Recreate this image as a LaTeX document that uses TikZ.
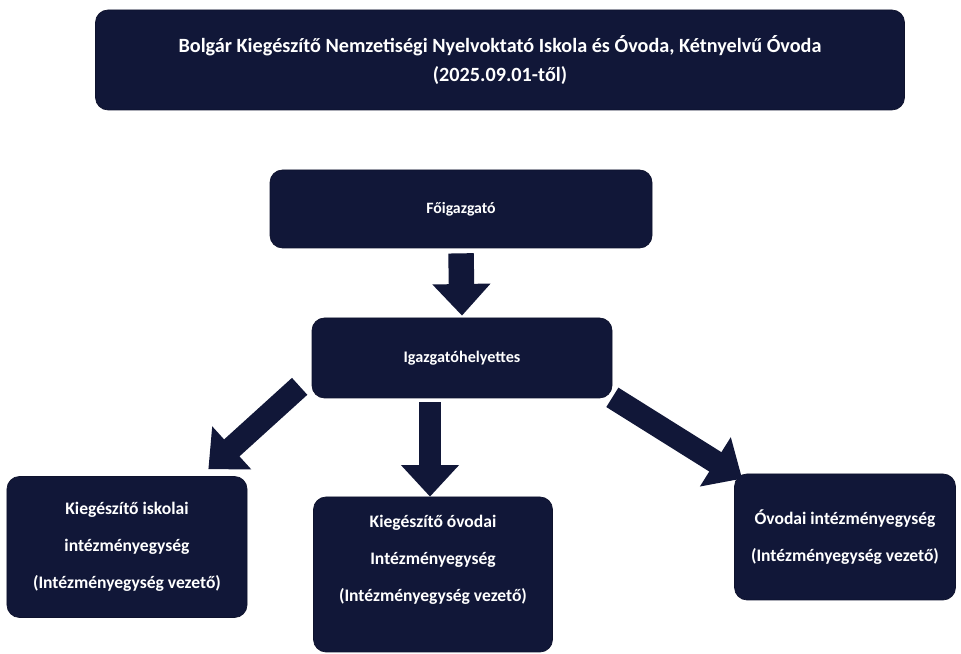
\documentclass[tikz,border=0pt]{standalone}
\usepackage{fontspec}
\setmainfont{Carlito}
\usepackage{tikz}
\usetikzlibrary{arrows.meta}
\usetikzlibrary{positioning}
\definecolor{navy}{HTML}{111738}
\tikzset{unit/.style = {fill=navy, draw=navy!80!black, rounded corners=0.25cm,
                        text=white, font=\bfseries\fontsize{10}{21}\selectfont, align=center}}
\tikzset{boxtext/.style = {text=white, font=\bfseries\fontsize{10}{21}\selectfont, align=center}}
\tikzset{bigarrow/.style = {draw=navy, line width=13pt,
                            -{Triangle[width=32pt, length=18pt]}}}

\begin{document}
\begin{tikzpicture}
      \useasboundingbox (0, 0) rectangle (19.22, 13.08);
      \node [unit, minimum width=16.18cm, minimum height=2cm,
             font=\bfseries\fontsize{11.5}{16}\selectfont] (title) at (10, 11.88)
            {Bolgár Kiegészítő Nemzetiségi Nyelvoktató Iskola és Óvoda, Kétnyelvű Óvoda\\(2025.09.01-től)};

      \node [unit, minimum width=7.64cm, minimum height=1.56cm, font=\bfseries\fontsize{9}{21}\selectfont] (fo) at (9.22, 8.9) {Főigazgató};
      \node [unit, minimum width=6cm, minimum height=1.6cm, font=\bfseries\fontsize{9.2}{21}\selectfont] (ig) at (9.24, 5.92) {Igazgatóhelyettes};

      \node [unit, minimum width=4.8cm, minimum height=2.82cm] (isk) at (2.54, 2.14)
            {Kiegészítő iskolai\\intézményegység\\(Intézményegység vezető)};
      \node [unit, minimum width=4.78cm, minimum height=3.1cm] (kov) at (8.66, 1.59) {};
      \node [boxtext] (kovtext) at ([yshift=0.3cm]kov.center)
            {Kiegészítő óvodai\\Intézményegység\\(Intézményegység vezető)};
      \node [unit, minimum width=4.42cm, minimum height=2.52cm] (ov) at (16.9, 2.34)
            {Óvodai intézményegység\\(Intézményegység vezető)};

      % arrows
      \draw [bigarrow, line width=14.5pt] ([yshift=-0.1cm]fo.south) -- ([yshift=0.04cm]ig.north);
      \draw [bigarrow] ([xshift=-0.24cm, yshift=0.24cm]ig.south west) -- ([xshift=-0.78cm, yshift=0.14cm]isk.north east);
      \draw [bigarrow] ([xshift=-0.06cm, yshift=-0.08cm]kov.north |- ig.south) -- ([xshift=-0.06cm]kov.north);
      \draw [bigarrow] ([xshift=0cm, yshift=0.02cm]ig.south east) -- ([xshift=0.16cm, yshift=-0.1cm]ov.north west);
    \end{tikzpicture}
\end{document}
